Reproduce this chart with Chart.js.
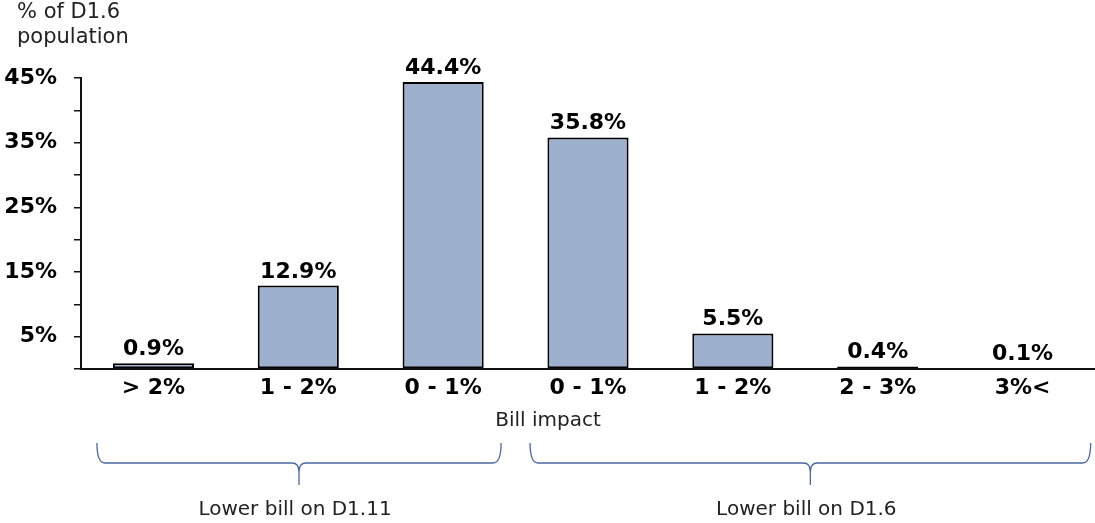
<!DOCTYPE html>
<html>
<head>
<meta charset="utf-8">
<script src="https://cdn.jsdelivr.net/npm/chart.js@4.4.0/dist/chart.umd.min.js"></script>
<style>
    body { margin: 0; background: #fff; }
    #wrap { width: 1095px; height: 523px; position: relative; }
</style>
</head>
<body>
<div id="wrap"><canvas id="billchart"></canvas></div>
<script>
// bill impact bands and share of the population in each
const categories = ['> 2%', '1 - 2%', '0 - 1%', '0 - 1%', '1 - 2%', '2 - 3%', '3%<'];
const shares = [0.9, 12.9, 44.4, 35.8, 5.5, 0.4, 0.1];
const yTicks = [0, 5, 10, 15, 20, 25, 30, 35, 40, 45];
const yLabelled = [5, 15, 25, 35, 45];

// brace groups under the axis, in category units
const groupNames = ['Lower bill on D1.11', 'Lower bill on D1.6'];
const groupFrom = [-0.39, 2.6];
const groupTo = [2.4, 6.47];

const FONT = '"DejaVu Sans", Verdana, sans-serif';

// value labels above every bar
const barLabels = {
    id: 'barLabels',
    afterDatasetsDraw(chart) {
        const ctx = chart.ctx;
        const meta = chart.getDatasetMeta(0);
        ctx.save();
        ctx.font = 'bold 22px ' + FONT;
        ctx.fillStyle = '#000';
        ctx.textAlign = 'center';
        ctx.textBaseline = 'alphabetic';
        meta.data.forEach((bar, i) => {
            ctx.fillText(shares[i].toFixed(1) + '%', bar.x, bar.y - 8);
        });
        ctx.restore();
    }
};

// axis captions and the two braces
const extras = {
    id: 'extras',
    afterDraw(chart) {
        const ctx = chart.ctx;
        const xs = chart.scales.x;
        ctx.save();
        ctx.fillStyle = '#222';
        ctx.font = '21px ' + FONT;
        ctx.textAlign = 'left';
        ctx.textBaseline = 'middle';
        ctx.fillText('% of D1.6', 17, 13);
        ctx.fillText('population', 17, 38);

        ctx.font = '20px ' + FONT;
        ctx.textAlign = 'center';
        ctx.fillText('Bill impact', 548, 421);

        const top = 443, mid = 463, tip = 485;
        ctx.strokeStyle = '#4a67a3';
        ctx.lineWidth = 1.3;
        for (let g = 0; g < groupNames.length; g++) {
            const x0 = xs.getPixelForValue(groupFrom[g]);
            const x1 = xs.getPixelForValue(groupTo[g]);
            const xc = (x0 + x1) / 2;
            ctx.beginPath();
            ctx.moveTo(x0, top);
            ctx.quadraticCurveTo(x0, mid, x0 + 8, mid);
            ctx.lineTo(xc - 7, mid);
            ctx.quadraticCurveTo(xc, mid, xc, mid + 9);
            ctx.lineTo(xc, tip);
            ctx.moveTo(x1, top);
            ctx.quadraticCurveTo(x1, mid, x1 - 8, mid);
            ctx.lineTo(xc + 7, mid);
            ctx.quadraticCurveTo(xc, mid, xc, mid + 9);
            ctx.stroke();
            ctx.fillText(groupNames[g], xc - 4, 510);
        }
        ctx.restore();
    }
};

new Chart(document.getElementById('billchart'), {
    type: 'bar',
    data: {
        labels: categories,
        datasets: [{
            data: shares,
            backgroundColor: '#9db0ce',
            borderColor: '#000',
            borderWidth: 2,
            borderSkipped: false,
            categoryPercentage: 1,
            barPercentage: 0.56
        }]
    },
    options: {
        responsive: true,
        maintainAspectRatio: false,
        animation: false,
        layout: { padding: { top: 78, right: 0, bottom: 0, left: 0 } },
        plugins: {
            legend: { display: false },
            tooltip: { enabled: false }
        },
        scales: {
            x: {
                afterFit(scale) { scale.height = 154; },
                grid: { display: false, drawTicks: false },
                border: { display: true, color: '#111', width: 2 },
                ticks: {
                    color: '#000',
                    padding: 6,
                    maxRotation: 0,
                    font: { family: FONT, size: 22, weight: 'bold' }
                }
            },
            y: {
                min: 0,
                max: 45,
                afterFit(scale) { scale.width = 81; },
                afterBuildTicks(scale) {
                    scale.ticks = yTicks.map(v => ({ value: v }));
                },
                grid: {
                    drawOnChartArea: false,
                    drawTicks: true,
                    tickLength: 7,
                    color: '#111',
                    lineWidth: 1.5
                },
                border: { display: true, color: '#111', width: 2 },
                ticks: {
                    color: '#000',
                    padding: 17,
                    font: { family: FONT, size: 22, weight: 'bold' },
                    callback: v => yLabelled.includes(v) ? v + '%' : ''
                }
            }
        }
    },
    plugins: [barLabels, extras]
});
</script>
</body>
</html>
